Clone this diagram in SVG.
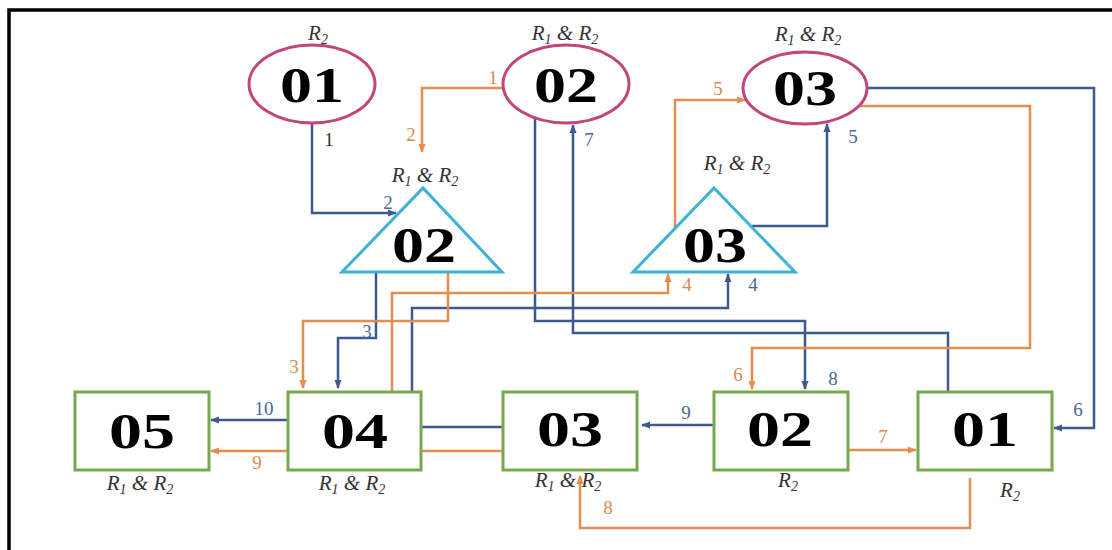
<svg xmlns="http://www.w3.org/2000/svg" width="1112" height="550" viewBox="0 0 1112 550">
<style>
.bg{fill:#ffffff}
.frame{fill:none;stroke:#000;stroke-width:3.5}
.circ{fill:#fff;stroke:#c2457c;stroke-width:3}
.tri{fill:#fff;stroke:#3cb2d6;stroke-width:3;stroke-linejoin:miter}
.box{fill:#fff;stroke:#76a84c;stroke-width:3}
.big{font-family:"Liberation Serif","DejaVu Serif",serif;font-weight:bold;font-size:50px;fill:#000;text-anchor:middle}
.rl{font-family:"Liberation Serif","DejaVu Serif",serif;font-style:italic;font-size:21px;fill:#333;text-anchor:middle}
.sub{font-size:14px}
.bl{fill:none;stroke:#3d5a8c;stroke-width:2.5}
.ol{fill:none;stroke:#e38d4f;stroke-width:2.5}
.lb{font-family:"Liberation Serif","DejaVu Serif",serif;font-size:19px;fill:#4a6898;text-anchor:middle}
.lo{font-family:"Liberation Serif","DejaVu Serif",serif;font-size:19px;fill:#d98a50;text-anchor:middle}
.ld{font-family:"Liberation Serif","DejaVu Serif",serif;font-size:19px;fill:#333;text-anchor:middle}
</style>
<defs>
<marker id="ab" viewBox="0 0 10 10" refX="9" refY="5" markerWidth="9" markerHeight="9" markerUnits="userSpaceOnUse" orient="auto"><path d="M0,1 L10,5 L0,9 z" fill="#3d5a8c"/></marker>
<marker id="ao" viewBox="0 0 10 10" refX="9" refY="5" markerWidth="9" markerHeight="9" markerUnits="userSpaceOnUse" orient="auto"><path d="M0,1 L10,5 L0,9 z" fill="#e38d4f"/></marker>
</defs>
<rect class="bg" x="0" y="0" width="1112" height="550"/>
<path class="frame" d="M9,550 V10 H1112"/>

<g id="connectors">
<path class="bl" d="M312,123 V213 H396" marker-end="url(#ab)"/>
<path class="bl" d="M376,272 V338 H338 V388" marker-end="url(#ab)"/>
<path class="bl" d="M412,392 V308 H728 V274" marker-end="url(#ab)"/>
<path class="bl" d="M752,226 H827 V124" marker-end="url(#ab)"/>
<path class="bl" d="M867,88 H1094 V428 H1054" marker-end="url(#ab)"/>
<path class="bl" d="M535,118 V321 H805 V389" marker-end="url(#ab)"/>
<path class="bl" d="M948,392 V333 H573 V125" marker-end="url(#ab)"/>
<path class="bl" d="M421,427 H503"/>
<path class="bl" d="M287,420 H211" marker-end="url(#ab)"/>
<path class="bl" d="M714,425 H642" marker-end="url(#ab)"/>

<path class="ol" d="M503,88 H422 V152" marker-end="url(#ao)"/>
<path class="ol" d="M448,272 V321 H303 V388" marker-end="url(#ao)"/>
<path class="ol" d="M392,392 V293 H668 V274" marker-end="url(#ao)"/>
<path class="ol" d="M675,228 V100 H745" marker-end="url(#ao)"/>
<path class="ol" d="M859,106 H1030 V348 H752 V389" marker-end="url(#ao)"/>
<path class="ol" d="M421,451 H503"/>
<path class="ol" d="M287,451 H211" marker-end="url(#ao)"/>
<path class="ol" d="M843,450 H916" marker-end="url(#ao)"/>
<path class="ol" d="M970,478 V528 H580 V476" marker-end="url(#ao)"/>

<text class="ld" x="329" y="146">1</text>
<text class="lb" x="388" y="209">2</text>
<text class="lo" x="493" y="84">1</text>
<text class="lo" x="411" y="141">2</text>
<text class="lb" x="367" y="338">3</text>
<text class="lo" x="294" y="373">3</text>
<text class="lo" x="687" y="291">4</text>
<text class="lb" x="753" y="291">4</text>
<text class="lo" x="718" y="95">5</text>
<text class="lb" x="853" y="143">5</text>
<text class="lb" x="589" y="146">7</text>
<text class="lo" x="738" y="381">6</text>
<text class="lb" x="833" y="385">8</text>
<text class="lb" x="1078" y="416">6</text>
<text class="lb" x="264" y="415">10</text>
<text class="lo" x="257" y="469">9</text>
<text class="lb" x="686" y="419">9</text>
<text class="lo" x="883" y="443">7</text>
<text class="lo" x="608" y="514">8</text>
</g>

<g id="c01">
<ellipse class="circ" cx="312" cy="84" rx="63" ry="39"/>
<text class="big" x="312" y="102" textLength="64" lengthAdjust="spacingAndGlyphs">01</text>
<text class="rl" x="318" y="40">R<tspan class="sub" dy="4">2</tspan></text>
</g>
<g id="c02">
<ellipse class="circ" cx="566" cy="84" rx="63" ry="39"/>
<text class="big" x="566" y="102" textLength="64" lengthAdjust="spacingAndGlyphs">02</text>
<text class="rl" x="565" y="40">R<tspan class="sub" dy="4">1</tspan><tspan dy="-4"> &amp; R</tspan><tspan class="sub" dy="4">2</tspan></text>
</g>
<g id="c03">
<ellipse class="circ" cx="805" cy="88" rx="62" ry="36"/>
<text class="big" x="805" y="105" textLength="64" lengthAdjust="spacingAndGlyphs">03</text>
<text class="rl" x="808" y="41">R<tspan class="sub" dy="4">1</tspan><tspan dy="-4"> &amp; R</tspan><tspan class="sub" dy="4">2</tspan></text>
</g>

<g id="t02">
<polygon class="tri" points="342,272 423,188 502,272"/>
<text class="big" x="424" y="262" textLength="64" lengthAdjust="spacingAndGlyphs">02</text>
<text class="rl" x="425" y="182">R<tspan class="sub" dy="4">1</tspan><tspan dy="-4"> &amp; R</tspan><tspan class="sub" dy="4">2</tspan></text>
</g>
<g id="t03">
<polygon class="tri" points="633,272 714,188 795,272"/>
<text class="big" x="715" y="262" textLength="64" lengthAdjust="spacingAndGlyphs">03</text>
<text class="rl" x="737" y="170">R<tspan class="sub" dy="4">1</tspan><tspan dy="-4"> &amp; R</tspan><tspan class="sub" dy="4">2</tspan></text>
</g>

<g id="b05">
<rect class="box" x="75" y="392" width="134" height="78"/>
<text class="big" x="142" y="448" textLength="66" lengthAdjust="spacingAndGlyphs">05</text>
<text class="rl" x="140" y="490">R<tspan class="sub" dy="4">1</tspan><tspan dy="-4"> &amp; R</tspan><tspan class="sub" dy="4">2</tspan></text>
</g>
<g id="b04">
<rect class="box" x="288" y="392" width="133" height="78"/>
<text class="big" x="355" y="448" textLength="66" lengthAdjust="spacingAndGlyphs">04</text>
<text class="rl" x="352" y="490">R<tspan class="sub" dy="4">1</tspan><tspan dy="-4"> &amp; R</tspan><tspan class="sub" dy="4">2</tspan></text>
</g>
<g id="b03">
<rect class="box" x="503" y="392" width="134" height="78"/>
<text class="big" x="570" y="446" textLength="66" lengthAdjust="spacingAndGlyphs">03</text>
<text class="rl" x="568" y="487">R<tspan class="sub" dy="4">1</tspan><tspan dy="-4"> &amp; R</tspan><tspan class="sub" dy="4">2</tspan></text>
</g>
<g id="b02">
<rect class="box" x="714" y="392" width="134" height="78"/>
<text class="big" x="780" y="446" textLength="66" lengthAdjust="spacingAndGlyphs">02</text>
<text class="rl" x="788" y="487">R<tspan class="sub" dy="4">2</tspan></text>
</g>
<g id="b01">
<rect class="box" x="918" y="392" width="134" height="78"/>
<text class="big" x="985" y="446" textLength="66" lengthAdjust="spacingAndGlyphs">01</text>
<text class="rl" x="1010" y="497">R<tspan class="sub" dy="4">2</tspan></text>
</g>
</svg>
